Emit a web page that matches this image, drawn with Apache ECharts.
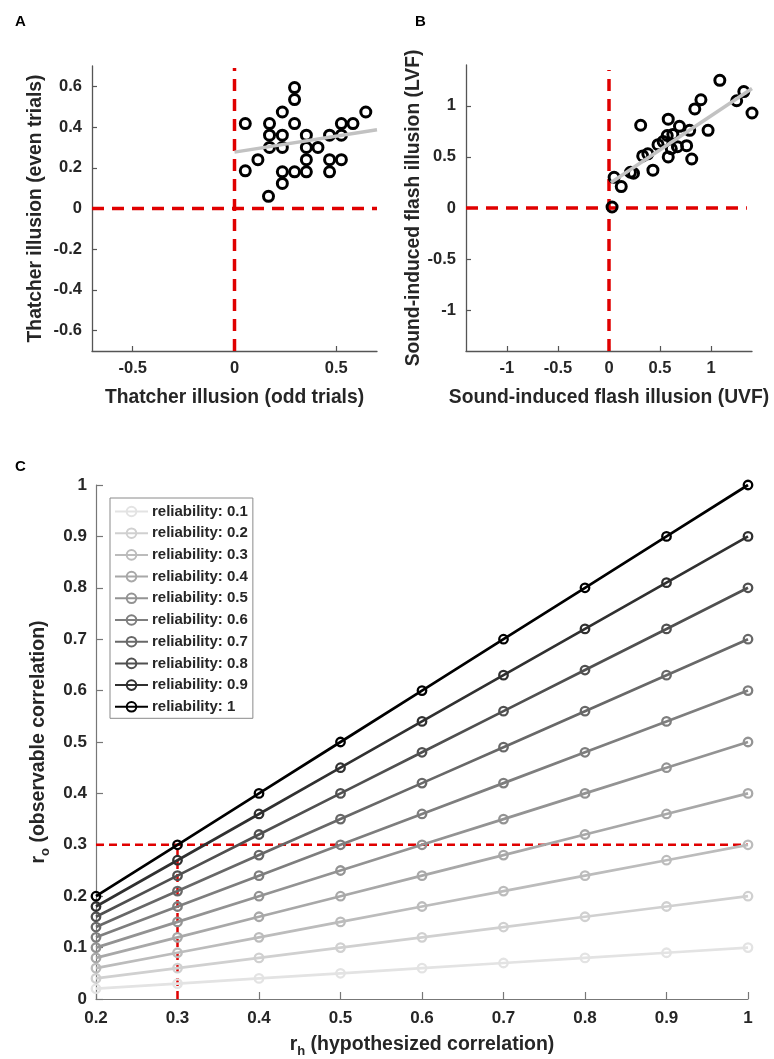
<!DOCTYPE html>
<html>
<head>
<meta charset="utf-8">
<script src="https://cdn.jsdelivr.net/npm/echarts@6/dist/echarts.min.js"></script>
<style>
html,body{margin:0;padding:0;background:#fff;}
#chart{width:774px;height:1059px;}
</style>
</head>
<body>
<div id="chart"></div>
<script>
// ---------- Panel A data (Thatcher illusion) ----------
const thatcherOdd  = [0.053,0.053,0.115,0.167,0.172,0.172,0.172,0.235,0.235,0.235,0.235,0.235,0.295,0.295,0.295,0.295,0.353,0.353,0.353,0.353,0.41,0.467,0.467,0.467,0.525,0.525,0.525,0.582,0.645];
const thatcherEven = [0.417,0.185,0.24,0.06,0.417,0.36,0.30,0.474,0.36,0.30,0.18,0.123,0.594,0.535,0.417,0.18,0.36,0.30,0.24,0.18,0.30,0.36,0.24,0.18,0.417,0.36,0.24,0.417,0.474];
const fitAx = [0, 0.7];
const fitAy = [0.277, 0.387];
const ticksA_x = [-0.5, 0, 0.5];
const ticksA_y = [-0.6, -0.4, -0.2, 0, 0.2, 0.4, 0.6];

// ---------- Panel B data (sound-induced flash illusion) ----------
const sifiUVF = [0.03,0.05,0.12,0.21,0.24,0.31,0.33,0.38,0.43,0.48,0.53,0.57,0.58,0.58,0.61,0.625,0.67,0.69,0.76,0.79,0.81,0.84,0.90,0.97,1.085,1.25,1.32,1.40];
const sifiLVF = [0.01,0.30,0.21,0.35,0.34,0.81,0.51,0.53,0.37,0.62,0.65,0.71,0.87,0.50,0.58,0.72,0.60,0.80,0.61,0.76,0.48,0.97,1.06,0.76,1.25,1.05,1.14,0.93];
const fitBx = [0.02, 1.4];
const fitBy = [0.25, 1.17];
const ticksB = [-1, -0.5, 0, 0.5, 1];

// ---------- Panel C data (observable vs hypothesized correlation) ----------
const rh = [0.2, 0.3, 0.4, 0.5, 0.6, 0.7, 0.8, 0.9, 1.0];
const reliabilities = ['0.1','0.2','0.3','0.4','0.5','0.6','0.7','0.8','0.9','1'];
const ro_01 = [0.02,0.03,0.04,0.05,0.06,0.07,0.08,0.09,0.10];
const ro_02 = [0.04,0.06,0.08,0.10,0.12,0.14,0.16,0.18,0.20];
const ro_03 = [0.06,0.09,0.12,0.15,0.18,0.21,0.24,0.27,0.30];
const ro_04 = [0.08,0.12,0.16,0.20,0.24,0.28,0.32,0.36,0.40];
const ro_05 = [0.10,0.15,0.20,0.25,0.30,0.35,0.40,0.45,0.50];
const ro_06 = [0.12,0.18,0.24,0.30,0.36,0.42,0.48,0.54,0.60];
const ro_07 = [0.14,0.21,0.28,0.35,0.42,0.49,0.56,0.63,0.70];
const ro_08 = [0.16,0.24,0.32,0.40,0.48,0.56,0.64,0.72,0.80];
const ro_09 = [0.18,0.27,0.36,0.45,0.54,0.63,0.72,0.81,0.90];
const ro_10 = [0.20,0.30,0.40,0.50,0.60,0.70,0.80,0.90,1.00];
const roSeries = [ro_01,ro_02,ro_03,ro_04,ro_05,ro_06,ro_07,ro_08,ro_09,ro_10];
const refCx = [0.2, 1.0];   // horizontal reference at ro = 0.3
const refCy = 0.3;
const refCvx = 0.3;         // vertical reference at rh = 0.3

// ---------- styles ----------
const grays = ['#e3e3e3','#d0d0d0','#bcbcbc','#a8a8a8','#939393','#7e7e7e','#686868','#505050','#303030','#000000'];
const FONT = 'Liberation Sans';
const RED = '#e00000';
const AXC = '#555555';
const TXT = '#262626';

function zip(a, b) { return a.map((v, i) => [v, b[i]]); }

function axisAB(gridIndex, min, max, ticks, name, nameGap, isY) {
  return {
    type: 'value', gridIndex, min, max,
    name, nameLocation: 'middle', nameGap,
    nameTextStyle: { fontFamily: FONT, fontWeight: 'bold', fontSize: 19.3, color: TXT },
    axisLine: { show: true, onZero: false, lineStyle: { color: AXC, width: 1.3 } },
    axisTick: { show: true, inside: true, length: 5, customValues: ticks, lineStyle: { color: AXC, width: 1.2 } },
    axisLabel: { customValues: ticks, fontFamily: FONT, fontWeight: 'bold', fontSize: 16.5, color: TXT, margin: isY ? 10 : 9,
      formatter: v => String(+v.toFixed(2)) },
    splitLine: { show: false }
  };
}

const chart = echarts.init(document.getElementById('chart'), null, { renderer: 'canvas' });

const series = [];
const scatterStyle = { color: 'rgba(0,0,0,0)', borderColor: '#000', borderWidth: 3, opacity: 1 };

// Panel A
series.push({ type: 'line', xAxisIndex: 0, yAxisIndex: 0, data: [[-0.7, 0], [0.7, 0]], symbol: 'none', silent: true,
  lineStyle: { color: RED, width: 3.5, type: [12, 8] }, z: 1 });
series.push({ type: 'line', xAxisIndex: 0, yAxisIndex: 0, data: [[0, -0.7], [0, 0.69]], symbol: 'none', silent: true,
  lineStyle: { color: RED, width: 3.5, type: [12, 8] }, z: 1 });
series.push({ type: 'scatter', xAxisIndex: 0, yAxisIndex: 0, data: zip(thatcherOdd, thatcherEven), symbol: 'circle', symbolSize: 10,
  itemStyle: scatterStyle, z: 2 });
series.push({ type: 'line', xAxisIndex: 0, yAxisIndex: 0, data: zip(fitAx, fitAy), symbol: 'none',
  lineStyle: { color: '#c2c2c2', width: 3.5 }, z: 3 });

// Panel B
series.push({ type: 'line', xAxisIndex: 1, yAxisIndex: 1, data: [[-1.4, 0], [1.35, 0]], symbol: 'none', silent: true,
  lineStyle: { color: RED, width: 3.5, type: [12, 8] }, z: 1 });
series.push({ type: 'line', xAxisIndex: 1, yAxisIndex: 1, data: [[0, -1.4], [0, 1.35]], symbol: 'none', silent: true,
  lineStyle: { color: RED, width: 3.5, type: [12, 8] }, z: 1 });
series.push({ type: 'scatter', xAxisIndex: 1, yAxisIndex: 1, data: zip(sifiUVF, sifiLVF), symbol: 'circle', symbolSize: 10,
  itemStyle: scatterStyle, z: 2 });
series.push({ type: 'line', xAxisIndex: 1, yAxisIndex: 1, data: zip(fitBx, fitBy), symbol: 'none',
  lineStyle: { color: '#c2c2c2', width: 3.5 }, z: 3 });

// Panel C reference lines
series.push({ type: 'line', xAxisIndex: 2, yAxisIndex: 2, data: [[refCx[0], refCy], [refCx[1], refCy]], symbol: 'none', silent: true,
  lineStyle: { color: RED, width: 2.5, type: [8, 5] }, z: 1 });
series.push({ type: 'line', xAxisIndex: 2, yAxisIndex: 2, data: [[refCvx, 0], [refCvx, refCy]], symbol: 'none', silent: true,
  lineStyle: { color: RED, width: 2.5, type: [8, 5] }, z: 1 });

roSeries.forEach((arr, i) => {
  series.push({
    name: 'reliability: ' + reliabilities[i],
    type: 'line', xAxisIndex: 2, yAxisIndex: 2,
    data: zip(rh, arr),
    symbol: 'circle', symbolSize: 8.5, showSymbol: true,
    lineStyle: { color: grays[i], width: 2.7 },
    itemStyle: { color: 'rgba(255,255,255,0)', borderColor: grays[i], borderWidth: 2.3 },
    z: 2 + i * 0.01
  });
});

const subRich = (size) => ({
  r: { fontFamily: FONT, fontWeight: 'bold', fontSize: size, color: TXT },
  s: { fontFamily: FONT, fontWeight: 'bold', fontSize: 13, color: TXT, padding: [13, 0, 0, 0] }
});

const option = {
  animation: false,
  backgroundColor: '#fff',
  textStyle: { fontFamily: FONT },
  grid: [
    { left: 92, top: 66, width: 285, height: 285 },
    { left: 466, top: 65, width: 286, height: 286 },
    { left: 96, top: 485, width: 652, height: 514 }
  ],
  xAxis: [
    axisAB(0, -0.7, 0.7, ticksA_x, 'Thatcher illusion (odd trials)', 37, false),
    axisAB(1, -1.4, 1.4, ticksB, 'Sound-induced flash illusion (UVF)', 37, false),
    {
      type: 'value', gridIndex: 2, min: 0.2, max: 1, interval: 0.1,
      name: '{r|r}{s|h}{r| (hypothesized correlation)}', nameLocation: 'middle', nameGap: 33,
      nameTextStyle: { rich: subRich(19.5) },
      axisLine: { show: true, onZero: false, lineStyle: { color: '#777', width: 1.2 } },
      axisTick: { show: true, inside: true, length: 7, lineStyle: { color: '#777', width: 1.2 } },
      axisLabel: { fontFamily: FONT, fontWeight: 'bold', fontSize: 17, color: TXT, margin: 11,
        formatter: v => String(+v.toFixed(2)) },
      splitLine: { show: false }
    }
  ],
  yAxis: [
    axisAB(0, -0.7, 0.7, ticksA_y, 'Thatcher illusion (even trials)', 47, true),
    axisAB(1, -1.4, 1.4, ticksB, 'Sound-induced flash illusion (LVF)', 40, true),
    {
      type: 'value', gridIndex: 2, min: 0, max: 1, interval: 0.1,
      name: '{r|r}{s|o}{r| (observable correlation)}', nameLocation: 'middle', nameGap: 44,
      nameTextStyle: { rich: subRich(19.5) },
      axisLine: { show: true, onZero: false, lineStyle: { color: '#777', width: 1.2 } },
      axisTick: { show: true, inside: true, length: 7, lineStyle: { color: '#777', width: 1.2 } },
      axisLabel: { fontFamily: FONT, fontWeight: 'bold', fontSize: 17, color: TXT, margin: 9,
        formatter: v => String(+v.toFixed(2)) },
      splitLine: { show: false }
    }
  ],
  legend: {
    data: reliabilities.map(r => 'reliability: ' + r),
    orient: 'vertical', left: 110, top: 498,
    padding: [6, 5, 4, 4],
    itemWidth: 33, itemHeight: 12, itemGap: 6.7,
    borderColor: '#8a8a8a', borderWidth: 1,
    backgroundColor: '#fff',
    textStyle: { fontFamily: FONT, fontWeight: 'bold', fontSize: 15, color: TXT, padding: [0, 0, 0, -1] },
    selectedMode: false
  },
  graphic: [
    { type: 'text', left: 15, top: 14, style: { text: 'A', fontFamily: FONT, fontWeight: 'bold', fontSize: 15, fill: '#000' } },
    { type: 'text', left: 415, top: 14, style: { text: 'B', fontFamily: FONT, fontWeight: 'bold', fontSize: 15, fill: '#000' } },
    { type: 'text', left: 15, top: 459, style: { text: 'C', fontFamily: FONT, fontWeight: 'bold', fontSize: 15, fill: '#000' } }
  ],
  series
};
chart.setOption(option);
</script>
</body>
</html>
